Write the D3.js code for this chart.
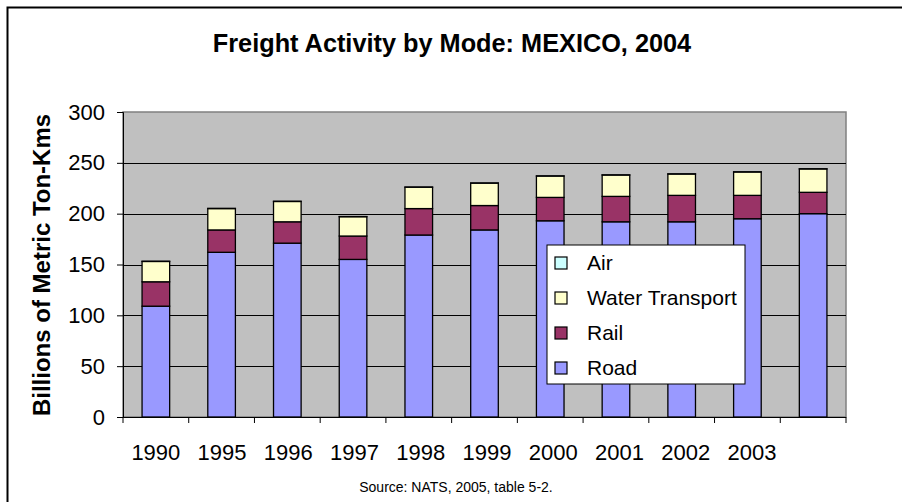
<!DOCTYPE html>
<html>
<head>
<meta charset="utf-8">
<script src="https://cdn.jsdelivr.net/npm/d3@7"></script>
<style>
  body { margin: 0; background: #fff; }
  svg text { font-family: Arial, "Liberation Sans", sans-serif; fill: #000; }
</style>
</head>
<body>
<div id="chart"></div>
<script>
// chart data
var years = ["1990", "1995", "1996", "1997", "1998", "1999", "2000", "2001", "2002", "2003", ""];
var road  = [109, 162, 171, 155, 179, 184, 193, 192, 192, 195, 200];
var rail  = [24, 22, 21, 23, 26, 24, 23, 25, 26, 23, 21];
var water = [20, 21, 20, 19, 21, 22, 21, 21, 21, 23, 23];
var air   = [0.2, 0.2, 0.2, 0.2, 0.2, 0.2, 0.2, 0.2, 0.2, 0.2, 0.2];
var yTicks = [0, 50, 100, 150, 200, 250, 300];

var modes = ["Road", "Rail", "Water Transport", "Air"];
var colors = { "Road": "#9999FF", "Rail": "#993366", "Water Transport": "#FFFFCC", "Air": "#CCFFFF" };
var legendOrder = ["Air", "Water Transport", "Rail", "Road"];

var W = 902, H = 502;
var plot = { left: 123, top: 112, right: 846, bottom: 417 };

var svg = d3.select("#chart").append("svg").attr("width", W).attr("height", H);

// outer chart frame (runs off right/bottom edge)
svg.append("rect")
    .attr("x", 7.5).attr("y", 7.5)
    .attr("width", W + 20).attr("height", H + 20)
    .attr("fill", "#fff").attr("stroke", "#000").attr("stroke-width", 2);

var table = years.map(function (y, i) {
    return { year: y, idx: i, "Road": road[i], "Rail": rail[i], "Water Transport": water[i], "Air": air[i] };
});

var x = d3.scaleBand().domain(d3.range(years.length))
    .range([plot.left, plot.right]).paddingInner(0.58).paddingOuter(0.29);
var y = d3.scaleLinear().domain([0, 300]).range([plot.bottom, plot.top]);

// plot background
svg.append("rect")
    .attr("x", plot.left).attr("y", plot.top)
    .attr("width", plot.right - plot.left).attr("height", plot.bottom - plot.top)
    .attr("fill", "#C0C0C0").attr("stroke", "#808080").attr("stroke-width", 1.5);

// gridlines
svg.append("g").selectAll("line").data(yTicks.slice(1, -1)).enter().append("line")
    .attr("x1", plot.left).attr("x2", plot.right)
    .attr("y1", function (d) { return Math.round(y(d)) + 0.5; })
    .attr("y2", function (d) { return Math.round(y(d)) + 0.5; })
    .attr("stroke", "#000").attr("stroke-width", 1);

// stacked bars
var stack = d3.stack().keys(modes)(table);
svg.append("g").selectAll("g").data(stack).enter().append("g")
    .attr("fill", function (d) { return colors[d.key]; })
    .selectAll("rect").data(function (d) { return d; }).enter().append("rect")
    .attr("x", function (d) { return x(d.data.idx); })
    .attr("width", x.bandwidth())
    .attr("y", function (d) { return y(d[1]); })
    .attr("height", function (d) { return y(d[0]) - y(d[1]); })
    .attr("stroke", "#000").attr("stroke-width", 1.3);

// y axis
var yAxis = svg.append("g")
    .attr("transform", "translate(" + plot.left + ",0)")
    .call(d3.axisLeft(y).tickValues(yTicks).tickSize(6).tickPadding(12));
yAxis.selectAll("text").style("font-size", "22px");
yAxis.selectAll("line, path").attr("stroke", "#000");

// x axis: ticks at category boundaries
var step = x.step();
var xAxisG = svg.append("g");
xAxisG.append("line")
    .attr("x1", plot.left).attr("x2", plot.right)
    .attr("y1", plot.bottom + 0.5).attr("y2", plot.bottom + 0.5)
    .attr("stroke", "#000");
xAxisG.selectAll("line.tk").data(d3.range(years.length + 1)).enter().append("line")
    .attr("class", "tk")
    .attr("x1", function (i) { return plot.left + i * step; })
    .attr("x2", function (i) { return plot.left + i * step; })
    .attr("y1", plot.bottom).attr("y2", plot.bottom + 6)
    .attr("stroke", "#000");
xAxisG.selectAll("text").data(table).enter().append("text")
    .attr("x", function (d) { return x(d.idx) + x.bandwidth() / 2 + d.idx * 0.5; })
    .attr("y", 460)
    .attr("text-anchor", "middle")
    .style("font-size", "22px")
    .text(function (d) { return d.year; });

// titles
svg.append("text")
    .attr("x", 452).attr("y", 52)
    .attr("text-anchor", "middle")
    .style("font-size", "25.3px").style("font-weight", "bold")
    .text("Freight Activity by Mode: MEXICO, 2004");

svg.append("text")
    .attr("transform", "translate(50,265) rotate(-90)")
    .attr("text-anchor", "middle")
    .style("font-size", "24px").style("font-weight", "bold")
    .text("Billions of Metric Ton-Kms");

svg.append("text")
    .attr("x", 456).attr("y", 492)
    .attr("text-anchor", "middle")
    .style("font-size", "14px")
    .text("Source: NATS, 2005, table 5-2.");

// legend
var legend = svg.append("g").attr("transform", "translate(547,245)");
legend.append("rect")
    .attr("width", 198).attr("height", 139)
    .attr("fill", "#fff").attr("stroke", "#000").attr("stroke-width", 1);
var items = legend.selectAll("g").data(legendOrder).enter().append("g")
    .attr("transform", function (d, i) { return "translate(0," + (18 + i * 35) + ")"; });
items.append("rect")
    .attr("x", 8).attr("y", -6).attr("width", 12).attr("height", 12)
    .attr("fill", function (d) { return colors[d]; })
    .attr("stroke", "#000").attr("stroke-width", 1.2);
items.append("text")
    .attr("x", 40).attr("y", 7)
    .style("font-size", "21px")
    .text(function (d) { return d; });
</script>
</body>
</html>
